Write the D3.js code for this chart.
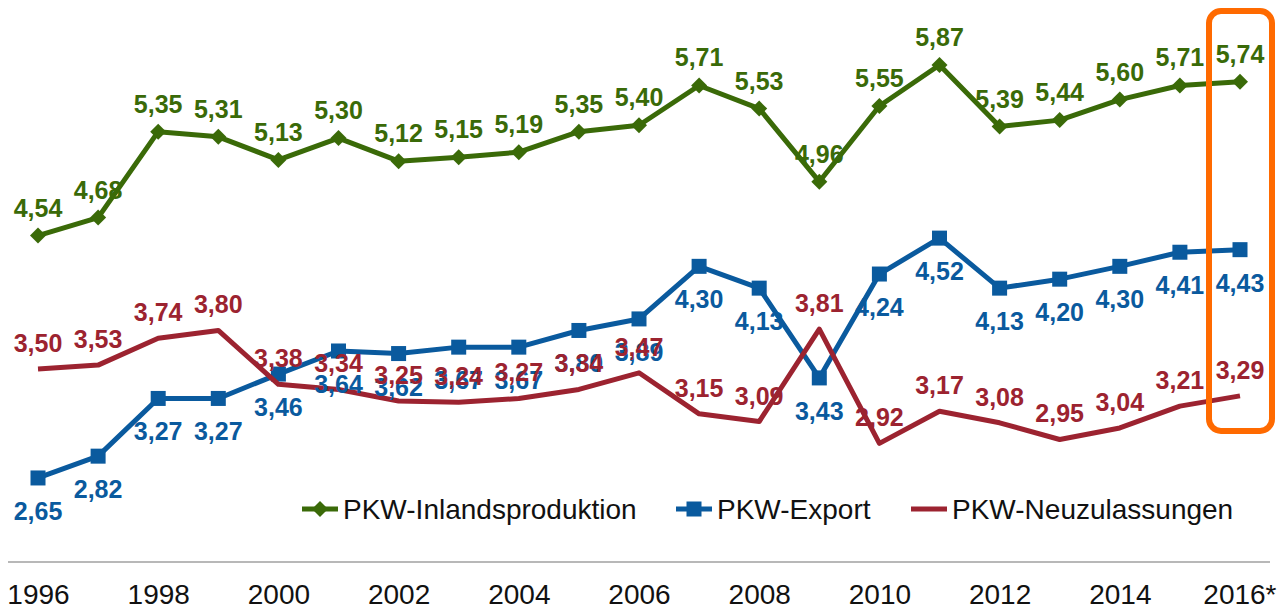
<!DOCTYPE html>
<html lang="de">
<head>
    <meta charset="UTF-8">
    <title>PKW-Inlandsproduktion, Export und Neuzulassungen</title>
    <script src="https://d3js.org/d3.v7.min.js"></script>
    <style>
        body { margin: 0; background: #fff; font-family: "Liberation Sans", Arial, sans-serif; }
        svg { display: block; }
        .lbl { font-weight: bold; font-size: 25px; text-anchor: middle; }
        .xaxis text { font-size: 28px; fill: #111; }
        .legend text { font-size: 28px; fill: #111; }
    </style>
</head>
<body>
<div id="chart"></div>
<script>
    // Jahre und Achsenbeschriftungen
    const years = d3.range(1996, 2017);
    const tickYears = [1996, 1998, 2000, 2002, 2004, 2006, 2008, 2010, 2012, 2014, 2016];
    const tickLabels = ["1996", "1998", "2000", "2002", "2004", "2006", "2008", "2010", "2012", "2014", "2016*"];

    // Werte in Mio. Stück
    const inlandsproduktion = [4.54, 4.68, 5.35, 5.31, 5.13, 5.30, 5.12, 5.15, 5.19, 5.35, 5.40,
                               5.71, 5.53, 4.96, 5.55, 5.87, 5.39, 5.44, 5.60, 5.71, 5.74];
    const pkwExport = [2.65, 2.82, 3.27, 3.27, 3.46, 3.64, 3.62, 3.67, 3.67, 3.80, 3.89,
                       4.30, 4.13, 3.43, 4.24, 4.52, 4.13, 4.20, 4.30, 4.41, 4.43];
    const neuzulassungen = [3.50, 3.53, 3.74, 3.80, 3.38, 3.34, 3.25, 3.24, 3.27, 3.34, 3.47,
                            3.15, 3.09, 3.81, 2.92, 3.17, 3.08, 2.95, 3.04, 3.21, 3.29];

    const seriesNames = ["PKW-Inlandsproduktion", "PKW-Export", "PKW-Neuzulassungen"];

    const W = 1277, H = 609;

    const series = [
        { name: seriesNames[0], values: inlandsproduktion, color: "#3a6a08", marker: "diamond", dy: -19 },
        { name: seriesNames[1], values: pkwExport, color: "#0a5a9e", marker: "square", dy: 42 },
        { name: seriesNames[2], values: neuzulassungen, color: "#9c2330", marker: "none", dy: -17 }
    ];

    const svg = d3.select("#chart").append("svg")
        .attr("width", W)
        .attr("height", H);

    const x = d3.scaleLinear().domain([1996, 2016]).range([38, 1240]);
    const y = d3.scaleLinear().domain([2.5, 6.0]).range([497.2, 48.3]);

    const fmt = v => d3.format(".2f")(v).replace(".", ",");

    // x-Achse: graue Linie + Jahreszahlen
    svg.append("line")
        .attr("x1", 8).attr("x2", 1270)
        .attr("y1", 562).attr("y2", 562)
        .attr("stroke", "#a0a0a0").attr("stroke-width", 1.5);

    const xAxis = svg.append("g")
        .attr("class", "xaxis")
        .attr("transform", "translate(0,584)")
        .call(d3.axisBottom(x)
            .tickValues(tickYears)
            .tickSize(0)
            .tickPadding(0)
            .tickFormat((d, i) => tickLabels[i]));
    xAxis.select(".domain").remove();
    xAxis.selectAll("text").attr("font-family", null).attr("dy", "0.71em");
    // letzte Beschriftung am rechten Rand ausrichten
    xAxis.selectAll(".tick text").filter((d, i) => tickLabels[i].endsWith("*"))
        .attr("text-anchor", "end")
        .attr("x", W - x(2016) - 1);

    const line = d3.line()
        .x((d, i) => x(years[i]))
        .y(d => y(d));

    function drawMarker(g, type, color, cx, cy) {
        if (type === "diamond") {
            g.append("path")
                .attr("d", `M${cx},${cy - 8}L${cx + 8},${cy}L${cx},${cy + 8}L${cx - 8},${cy}Z`)
                .attr("fill", color);
        } else if (type === "square") {
            g.append("rect")
                .attr("x", cx - 7.5).attr("y", cy - 7.5)
                .attr("width", 15).attr("height", 15)
                .attr("fill", color);
        }
    }

    // Linien und Marker
    series.forEach(s => {
        const g = svg.append("g");
        g.append("path")
            .datum(s.values)
            .attr("d", line)
            .attr("fill", "none")
            .attr("stroke", s.color)
            .attr("stroke-width", 5)
            .attr("stroke-linejoin", "round");
        s.values.forEach((v, i) => drawMarker(g, s.marker, s.color, x(years[i]), y(v)));
    });

    // Datenbeschriftungen
    series.forEach(s => {
        svg.append("g").selectAll("text")
            .data(s.values)
            .join("text")
            .attr("class", "lbl")
            .attr("x", (d, i) => x(years[i]))
            .attr("y", d => y(d) + s.dy)
            .attr("fill", s.color)
            .text(fmt);
    });

    // Legende
    const legendX = [302, 676, 911];
    const legend = svg.append("g").attr("class", "legend");
    series.forEach((s, i) => {
        const lg = legend.append("g").attr("transform", `translate(${legendX[i]},509)`);
        lg.append("line")
            .attr("x1", 0).attr("x2", 36)
            .attr("y1", 0).attr("y2", 0)
            .attr("stroke", s.color).attr("stroke-width", 5);
        drawMarker(lg, s.marker, s.color, 18, 0);
        lg.append("text")
            .attr("x", 41)
            .attr("y", 10)
            .text(s.name);
    });

    // Hervorhebung 2016
    svg.append("rect")
        .attr("x", x(2016) - 31).attr("y", 11)
        .attr("width", 63).attr("height", 420)
        .attr("rx", 12)
        .attr("fill", "none")
        .attr("stroke", "#ff6a00")
        .attr("stroke-width", 6);
</script>
</body>
</html>
